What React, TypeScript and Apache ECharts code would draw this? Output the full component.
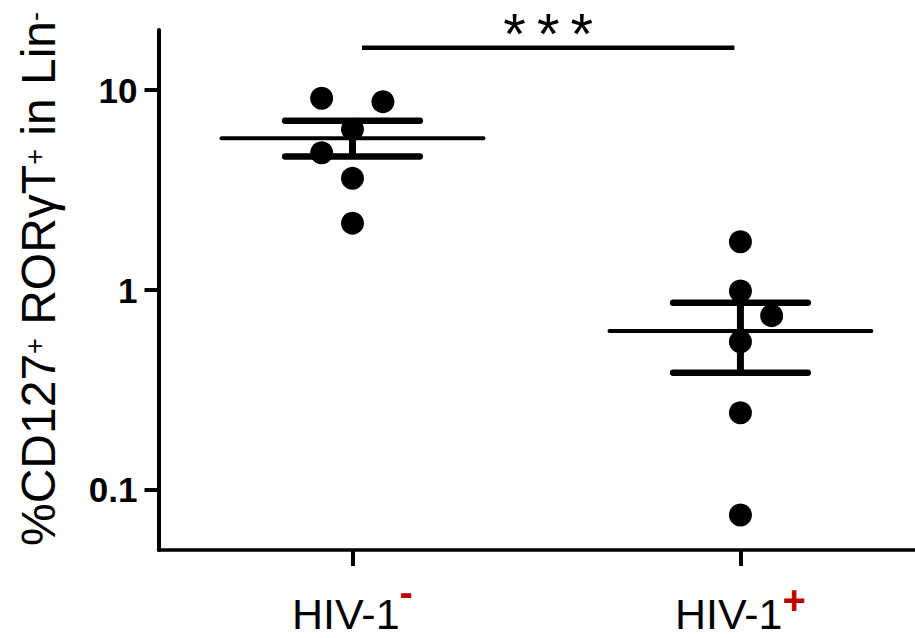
import React, { useEffect, useRef } from "react";
import * as echarts from "echarts";

// ---- data ----
const groupNames = ["HIV-1", "HIV-1"];
const groupSigns = ["-", "+"];
const groupPositions = [1, 3];

const negX = [0.841, 1.157, 1.0, 0.841, 1.0, 1.0];
const negY = [9.11, 8.76, 6.37, 4.86, 3.62, 2.16];
const posX = [3.0, 3.0, 3.161, 3.0, 3.0, 3.0];
const posY = [1.745, 0.989, 0.744, 0.551, 0.243, 0.0748];

const means = [5.74, 0.624];
const semUpper = [7.03, 0.864];
const semLower = [4.65, 0.385];

const yTicks = [0.1, 1, 10];
const sigRange = [1.049, 2.969];
const sigLevel = [16.3];
const sigText = "***";

// ---- styling constants ----
const FONT = "'Liberation Sans', Arial, sans-serif";
const MEAN_HALF = 0.675;
const CAP_HALF = 0.347;

export default function App() {
  const ref = useRef<HTMLDivElement>(null);

  useEffect(() => {
    if (!ref.current) return;
    const chart = echarts.init(ref.current, null, { renderer: "svg" });

    const scatterData = [
      ...negX.map((x, i) => [x, negY[i]]),
      ...posX.map((x, i) => [x, posY[i]]),
    ];
    const summaryData = groupPositions.map((x, i) => [x, means[i], semUpper[i], semLower[i]]);

    const option: any = {
      animation: false,
      backgroundColor: "#fff",
      grid: { left: 158.5, top: 30, width: 757.6, height: 520, containLabel: false },
      xAxis: {
        type: "value",
        min: 0,
        max: 3.9,
        axisLine: { show: true, onZero: false, lineStyle: { color: "#000", width: 3.5 } },
        axisTick: { show: true, customValues: groupPositions, length: 16, lineStyle: { color: "#000", width: 4 } },
        splitLine: { show: false },
        axisLabel: {
          customValues: groupPositions,
          margin: 22,
          formatter: (v: number) => {
            const i = groupPositions.indexOf(Math.round(v));
            if (i < 0) return "";
            return `{b|${groupNames[i]}}{${i === 0 ? "m" : "p"}|${groupSigns[i]}}`;
          },
          rich: {
            b: { fontSize: 43, color: "#000", fontFamily: FONT, padding: [20, 0, 0, 0] },
            m: { fontSize: 40, fontWeight: "bold", color: "#c00000", fontFamily: FONT, verticalAlign: "top" },
            p: { fontSize: 40, fontWeight: "bold", color: "#c00000", fontFamily: FONT, verticalAlign: "top", padding: [7.5, 0, 0, 0] },
          },
        },
      },
      yAxis: {
        type: "log",
        logBase: 10,
        min: 0.05,
        max: 20,
        axisLine: { show: true, onZero: false, lineStyle: { color: "#000", width: 4 } },
        axisTick: { show: true, customValues: yTicks, length: 14, lineStyle: { color: "#000", width: 4 } },
        splitLine: { show: false },
        minorTick: { show: false },
        axisLabel: {
          customValues: yTicks,
          margin: 21,
          fontSize: 35,
          fontWeight: "bold",
          color: "#000",
          fontFamily: FONT,
          formatter: (v: number) => String(v),
        },
        name: "{t|%CD127}{s|+}{t| ROR}{t|γ}{t|T}{s|+}{t| in Lin}{s|-}",
        nameLocation: "middle",
        nameGap: 93,
        nameTextStyle: {
          padding: [0, 0, 0, 22],
          rich: {
            t: { fontSize: 48, lineHeight: 54, color: "#000", fontFamily: FONT },
            s: { fontSize: 27, color: "#000", fontFamily: FONT, verticalAlign: "top", padding: [10, 0, 0, 0] },
          },
        },
      },
      series: [
        {
          type: "scatter",
          data: scatterData,
          symbol: "circle",
          symbolSize: 23,
          itemStyle: { color: "#000", opacity: 1 },
          z: 2,
        },
        {
          type: "custom",
          data: summaryData,
          z: 3,
          renderItem: (params: any, api: any) => {
            const cx = api.value(0);
            const m = api.value(1);
            const up = api.value(2);
            const lo = api.value(3);
            const a0 = api.coord([cx - MEAN_HALF, m]);
            const a1 = api.coord([cx + MEAN_HALF, m]);
            const u0 = api.coord([cx - CAP_HALF, up]);
            const u1 = api.coord([cx + CAP_HALF, up]);
            const l0 = api.coord([cx - CAP_HALF, lo]);
            const l1 = api.coord([cx + CAP_HALF, lo]);
            const vc = api.coord([cx, up]);
            const vl = api.coord([cx, lo]);
            const st = (w: number) => ({ stroke: "#000", lineWidth: w, lineCap: "round" });
            return {
              type: "group",
              children: [
                { type: "line", shape: { x1: a0[0], y1: a0[1], x2: a1[0], y2: a1[1] }, style: st(4) },
                { type: "line", shape: { x1: u0[0], y1: u0[1], x2: u1[0], y2: u1[1] }, style: st(6.5) },
                { type: "line", shape: { x1: l0[0], y1: l0[1], x2: l1[0], y2: l1[1] }, style: st(6.5) },
                { type: "line", shape: { x1: vc[0], y1: vc[1], x2: vl[0], y2: vl[1] }, style: { stroke: "#000", lineWidth: 7 } },
              ],
            };
          },
          encode: { x: 0, y: [1, 2, 3] },
        },
        {
          type: "custom",
          data: [[sigRange[0], sigRange[1], sigLevel[0]]],
          z: 3,
          encode: { x: [0, 1], y: 2 },
          renderItem: (params: any, api: any) => {
            const p0 = api.coord([api.value(0), api.value(2)]);
            const p1 = api.coord([api.value(1), api.value(2)]);
            return {
              type: "group",
              children: [
                { type: "line", shape: { x1: p0[0], y1: p0[1], x2: p1[0], y2: p1[1] }, style: { stroke: "#000", lineWidth: 4.5 } },
                {
                  type: "text",
                  style: {
                    text: sigText.split("").map((c) => `{a|${c}}`).join(""),
                    x: (p0[0] + p1[0]) / 2,
                    y: p0[1] - 14,
                    align: "center",
                    verticalAlign: "middle",
                    fill: "#000",
                    rich: { a: { fontSize: 58, lineHeight: 40, fontFamily: FONT, padding: [0, 5.5], fill: "#000", color: "#000" } },
                  },
                },
              ],
            };
          },
        },
      ],
    };

    chart.setOption(option);
    return () => chart.dispose();
  }, []);

  return (
    <div
      ref={ref}
      style={{ position: "fixed", left: 0, top: 0, width: 915, height: 638, background: "#fff" }}
    />
  );
}
